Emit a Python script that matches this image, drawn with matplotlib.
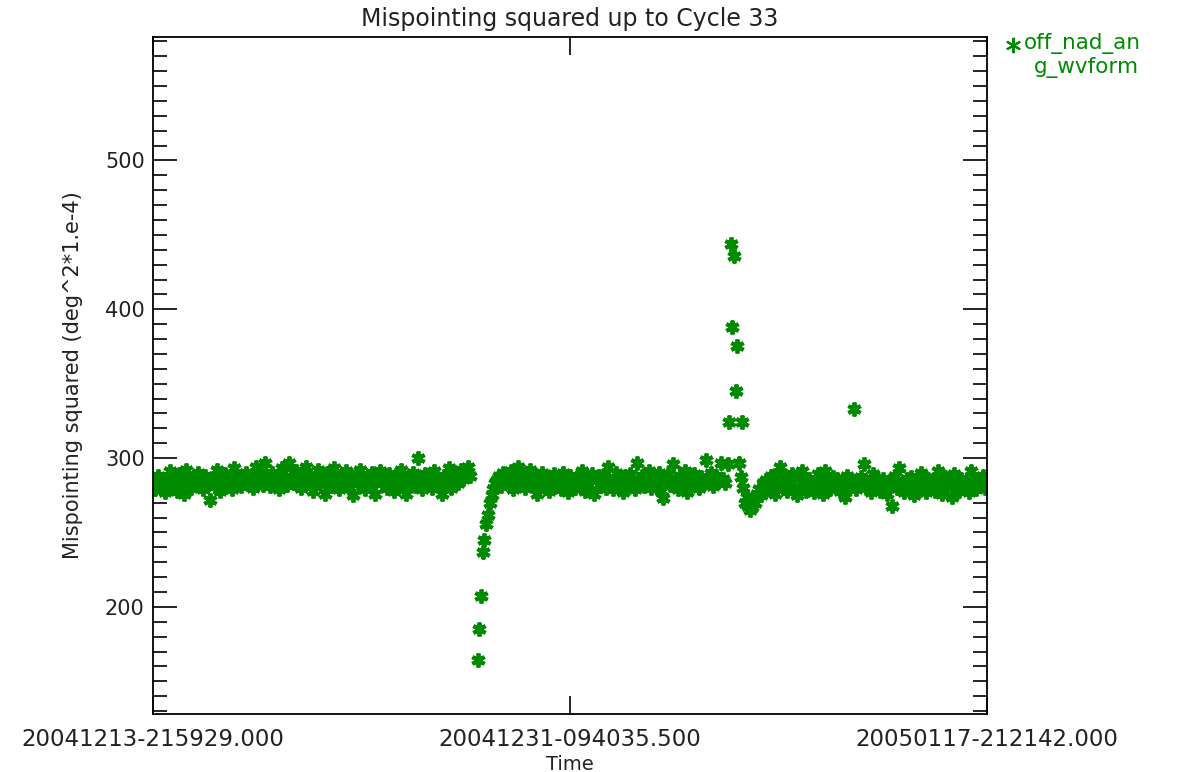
import numpy as np
import matplotlib.pyplot as plt
from matplotlib.lines import Line2D
from matplotlib.ticker import MultipleLocator

# time in days since 20041213-215929, mispointing squared (deg^2*1.e-4)
t_a = [0.0, 0.1, 0.2, 0.3, 0.4, 0.5, 0.6, 0.7, 0.8, 0.9,
       1.0, 1.1, 1.2, 1.3, 1.4, 1.5, 1.6, 1.7, 1.8, 1.9,
       2.0, 2.1, 2.2, 2.3, 2.4, 2.5, 2.6, 2.7, 2.8, 2.9,
       3.0, 3.1, 3.2, 3.3, 3.4, 3.5, 3.6, 3.7, 3.8, 3.9,
       4.0, 4.1, 4.2, 4.3, 4.4, 4.5, 4.6, 4.7, 4.8, 4.9,
       5.0, 5.1, 5.2, 5.3, 5.4, 5.5, 5.6, 5.7, 5.8, 5.9,
       6.0, 6.1, 6.2, 6.3, 6.4, 6.5, 6.6, 6.7, 6.8, 6.9,
       7.0, 7.1, 7.2, 7.3, 7.4, 7.5, 7.6, 7.7, 7.8, 7.9,
       8.0, 8.1, 8.2, 8.3, 8.4, 8.5, 8.6, 8.7, 8.8, 8.9,
       9.0, 9.1, 9.2, 9.3, 9.4, 9.5, 9.6, 9.7, 9.8, 9.9,
       10.0, 10.1, 10.2, 10.3, 10.4, 10.5, 10.6, 10.7, 10.8, 10.9,
       11.0, 11.1, 11.2, 11.3, 11.4, 11.5, 11.6, 11.7, 11.8, 11.9,
       12.0, 12.1, 12.2, 12.3, 12.4, 12.5, 12.6, 12.7, 12.8, 12.9,
       13.0, 13.1, 13.2, 13.3]
v_a = [283, 279, 288, 281, 286, 277, 284, 291, 280, 285,
       278, 289, 283, 276, 292, 284, 280, 287, 282, 290,
       285, 279, 288, 283, 272, 286, 281, 292, 278, 285,
       289, 282, 286, 279, 293, 284, 288, 281, 286, 290,
       283, 287, 280, 294, 285, 289, 282, 297, 286, 281,
       290, 284, 288, 279, 293, 286, 282, 297, 287, 283,
       291, 285, 280, 289, 294, 284, 288, 278, 286, 292,
       283, 287, 276, 290, 284, 281, 293, 286, 279, 288,
       284, 291, 280, 287, 275, 289, 283, 292, 286, 279,
       288, 282, 290, 276, 285, 291, 283, 287, 280, 289,
       284, 278, 288, 282, 292, 285, 276, 287, 283, 290,
       281, 300, 286, 279, 289, 283, 287, 280, 291, 285,
       282, 276, 288, 284, 293, 280, 287, 290, 283, 292,
       286, 289, 294, 288]

# dip around 20041227
t_b = [13.63, 13.67, 13.75, 13.84, 13.88, 13.97, 14.05, 14.13, 14.2, 14.26,
       14.35, 14.43, 14.5, 14.6, 14.68, 14.8]
v_b = [164, 185, 207, 237, 245, 256, 262, 270, 275, 279,
       283, 285, 288, 281, 290, 286]

t_c = [14.9, 15.0, 15.1, 15.2, 15.3, 15.4, 15.5, 15.6, 15.7, 15.8,
       15.9, 16.0, 16.1, 16.2, 16.3, 16.4, 16.5, 16.6, 16.7, 16.8,
       16.9, 17.0, 17.1, 17.2, 17.3, 17.4, 17.5, 17.6, 17.7, 17.8,
       17.9, 18.0, 18.1, 18.2, 18.3, 18.4, 18.5, 18.6, 18.7, 18.8,
       18.9, 19.0, 19.1, 19.2, 19.3, 19.4, 19.5, 19.6, 19.7, 19.8,
       19.9, 20.0, 20.1, 20.2, 20.3, 20.4, 20.5, 20.6, 20.7, 20.8,
       20.9, 21.0, 21.1, 21.2, 21.3, 21.4, 21.5, 21.6, 21.7, 21.8,
       21.9, 22.0, 22.1, 22.2, 22.3, 22.4, 22.5, 22.6, 22.7, 22.8,
       22.9, 23.0, 23.1, 23.2, 23.3, 23.4, 23.5, 23.6, 23.7, 23.8,
       23.9, 24.0]
v_c = [284, 291, 279, 287, 294, 283, 289, 280, 286, 292,
       282, 288, 276, 285, 290, 281, 287, 278, 284, 289,
       281, 286, 279, 290, 283, 277, 288, 284, 280, 287,
       283, 291, 278, 286, 282, 289, 276, 285, 288, 281,
       287, 280, 294, 284, 279, 290, 283, 286, 277, 288,
       282, 289, 285, 279, 297, 284, 288, 281, 286, 291,
       280, 287, 283, 290, 278, 273, 285, 289, 282, 296,
       284, 279, 288, 283, 291, 277, 286, 282, 289, 285,
       280, 287, 283, 299, 285, 290, 281, 288, 284, 297,
       286, 283]

# spike around 20050107 and recovery
t_d = [24.1, 24.16, 24.23, 24.3, 24.37, 24.43, 24.5, 24.58, 24.64, 24.68,
       24.75, 24.82, 24.89, 24.96, 25.03, 25.1, 25.17, 25.24, 25.31, 25.4,
       25.5, 25.6]
v_d = [296, 324, 444, 388, 436, 345, 375, 297, 287, 324,
       280, 270, 274, 268, 265, 267, 272, 270, 276, 279,
       275, 283]

t_e = [25.7, 25.8, 25.9, 26.0, 26.1, 26.2, 26.3, 26.4, 26.5, 26.6,
       26.7, 26.8, 26.9, 27.0, 27.1, 27.2, 27.3, 27.4, 27.5, 27.6,
       27.7, 27.8, 27.9, 28.0, 28.1, 28.2, 28.3, 28.4, 28.5, 28.6,
       28.7, 28.8, 28.9, 29.0, 29.1, 29.2, 29.3, 29.4, 29.5, 29.6,
       29.7, 29.8, 29.9, 30.0, 30.1, 30.2, 30.3, 30.4, 30.5, 30.6,
       30.7, 30.8, 30.9, 31.0, 31.1, 31.2, 31.3, 31.4, 31.5, 31.6,
       31.7, 31.8, 31.9, 32.0, 32.1, 32.2, 32.3, 32.4, 32.5, 32.6,
       32.7, 32.8, 32.9, 33.0, 33.1, 33.2, 33.3, 33.4, 33.5, 33.6,
       33.7, 33.8, 33.9, 34.0, 34.1, 34.2, 34.3, 34.4, 34.5, 34.6,
       34.7, 34.8, 34.9]
v_e = [285, 279, 288, 282, 276, 290, 294, 281, 286, 278,
       284, 289, 280, 275, 287, 291, 283, 278, 286, 281,
       277, 285, 289, 282, 276, 291, 284, 279, 287, 281,
       286, 278, 283, 274, 288, 281, 285, 333, 279, 284,
       287, 296, 280, 283, 277, 289, 282, 285, 278, 286,
       281, 276, 284, 268, 288, 280, 293, 283, 277, 286,
       282, 287, 275, 284, 279, 290, 283, 277, 286, 281,
       285, 278, 291, 283, 276, 287, 281, 284, 274, 289,
       282, 278, 286, 280, 284, 277, 291, 283, 279, 286,
       281, 288, 280]

x_ticks = [0.0, 17.487, 34.974]
x_labels = ['20041213-215929.000', '20041231-094035.500', '20050117-212142.000']

days = t_a + t_b + t_c + t_d + t_e
vals = v_a + v_b + v_c + v_d + v_e

green = '#008a00'
txt = '#222222'
plt.rcParams['font.family'] = 'DejaVu Sans'

fig = plt.figure(figsize=(11.81, 7.72), dpi=100)
ax = fig.add_axes([153/1181, 1-714/772, (987-153)/1181, (714-37)/772])

ax.plot(days, vals, linestyle='none', marker=(6, 2, 0), markersize=10,
        markeredgewidth=2.8, color=green)

ax.set_xlim(x_ticks[0], x_ticks[-1])
ax.set_ylim(128, 583)
ax.set_xticks(x_ticks)
ax.set_xticklabels(x_labels, fontsize=16.5, color=txt)
ax.yaxis.set_major_locator(MultipleLocator(100))
ax.yaxis.set_minor_locator(MultipleLocator(10))
ax.tick_params(axis='y', which='major', direction='in', length=17, width=1.2,
               left=True, right=True, labelsize=15, labelcolor=txt, pad=6)
ax.tick_params(axis='y', which='minor', direction='in', length=10, width=1.2,
               left=True, right=True)
ax.tick_params(axis='x', which='major', direction='in', length=13, width=1.2,
               top=True, bottom=True, pad=10)
for s in ax.spines.values():
    s.set_linewidth(1.3)

ax.set_title('Mispointing squared up to Cycle 33', fontsize=17, color=txt, pad=8)
ax.set_xlabel('Time', fontsize=14, color=txt)
ax.xaxis.set_label_coords(0.5, -(755-714)/677)
ax.set_ylabel('Mispointing squared (deg^2*1.e-4)', fontsize=15, color=txt, labelpad=16)

# legend written as in the original plot
fig.add_artist(Line2D([1013/1181], [1-45/772], transform=fig.transFigure,
                      marker=(6, 2, 0), markersize=11, markeredgewidth=1.5,
                      color=green, linestyle='none'))
fig.text(1024/1181, 1-44/772, 'off_nad_an', color=green, fontsize=15.5, va='center')
fig.text(1034/1181, 1-68/772, 'g_wvform', color=green, fontsize=15.5, va='center')

fig.savefig('out.png', dpi=100)
